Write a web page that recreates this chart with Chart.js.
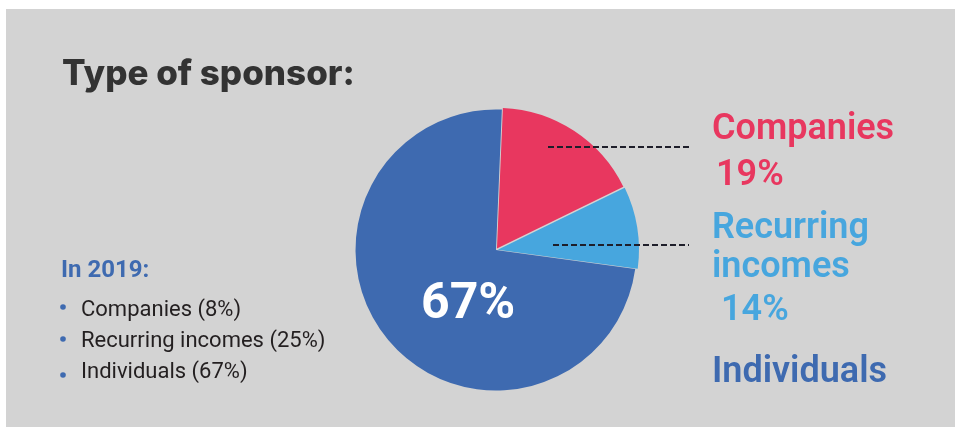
<!DOCTYPE html>
<html>
<head>
<meta charset="utf-8">
<script src="https://cdn.jsdelivr.net/npm/chart.js@4/dist/chart.umd.min.js"></script>
<style>
html,body{margin:0;padding:0;background:#fff;}
canvas{display:block;}
</style>
</head>
<body>
<canvas id="c" width="957" height="427"></canvas>
<script>
// ---- data ----
const categories = ['Companies', 'Recurring incomes', 'Individuals'];
const sliceValues = [17.1, 9.4, 73.5];          // slice shares as drawn in the picture
const sliceColors = ['#E8375F', '#47A6DE', '#3E6AB0'];
const labelLines = [['Companies', '19%'], ['Recurring', 'incomes', '14%'], ['Individuals']];
const centerLabel = '67%';
const listTitle = 'In 2019:';
const list2019 = ['Companies (8%)', 'Recurring incomes (25%)', 'Individuals (67%)'];
const titleText = 'Type of sponsor:';

const decor = {
  id: 'decor',
  beforeDraw(chart) {
    const ctx = chart.ctx;
    ctx.save();
    ctx.fillStyle = '#fff';
    ctx.fillRect(0, 0, 957, 427);
    ctx.fillStyle = '#D3D3D3';
    ctx.fillRect(6, 9, 949, 418);
    ctx.restore();
  },
  afterDraw(chart) {
    const ctx = chart.ctx;
    ctx.save();
    ctx.textBaseline = 'alphabetic';
    // title
    ctx.fillStyle = '#333333';
    ctx.font = '800 35px Inter';
    ctx.fillText(titleText, 62, 85);
    // dashed leader lines
    ctx.strokeStyle = '#1e1e2a';
    ctx.lineWidth = 2;
    ctx.setLineDash([6, 3]);
    ctx.beginPath(); ctx.moveTo(548, 147); ctx.lineTo(692, 147); ctx.stroke();
    ctx.beginPath(); ctx.moveTo(553, 245); ctx.lineTo(689, 245); ctx.stroke();
    ctx.setLineDash([]);
    // right labels
    ctx.font = '600 36px Roboto';
    ctx.fillStyle = sliceColors[0];
    ctx.fillText(labelLines[0][0], 712, 139);
    ctx.fillText(labelLines[0][1], 716, 185);
    ctx.fillStyle = sliceColors[1];
    ctx.fillText(labelLines[1][0], 712, 238);
    ctx.fillText(labelLines[1][1], 712, 277);
    ctx.fillText(labelLines[1][2], 721, 320);
    ctx.fillStyle = sliceColors[2];
    ctx.fillText(labelLines[2][0], 712, 382);
    // center label
    ctx.fillStyle = '#ffffff';
    ctx.font = '700 50px Roboto';
    ctx.fillText(centerLabel, 421, 318);
    // left list
    ctx.fillStyle = '#3E6AB0';
    ctx.font = '700 24px Roboto';
    ctx.fillText(listTitle, 61, 277);
    ctx.font = '400 22px Roboto';
    const ys = [316, 347, 378];
    const bys = [307, 339, 375];
    list2019.forEach((t, i) => {
      ctx.fillStyle = '#3E6AB0';
      ctx.beginPath(); ctx.arc(63, bys[i], 2.8, 0, Math.PI * 2); ctx.fill();
      ctx.fillStyle = '#231f20';
      ctx.fillText(t, 81, ys[i]);
    });
    ctx.restore();
  }
};

new Chart(document.getElementById('c'), {
  type: 'pie',
  data: {
    labels: categories,
    datasets: [{
      data: sliceValues,
      backgroundColor: sliceColors,
      borderWidth: 0,
      offset: [7, 7, 0]
    }]
  },
  options: {
    responsive: false,
    animation: false,
    rotation: 2.4,
    layout: { padding: { left: 352, right: 317, top: 106, bottom: 33 } },
    plugins: { legend: { display: false }, tooltip: { enabled: false } }
  },
  plugins: [decor]
});
</script>
</body>
</html>
